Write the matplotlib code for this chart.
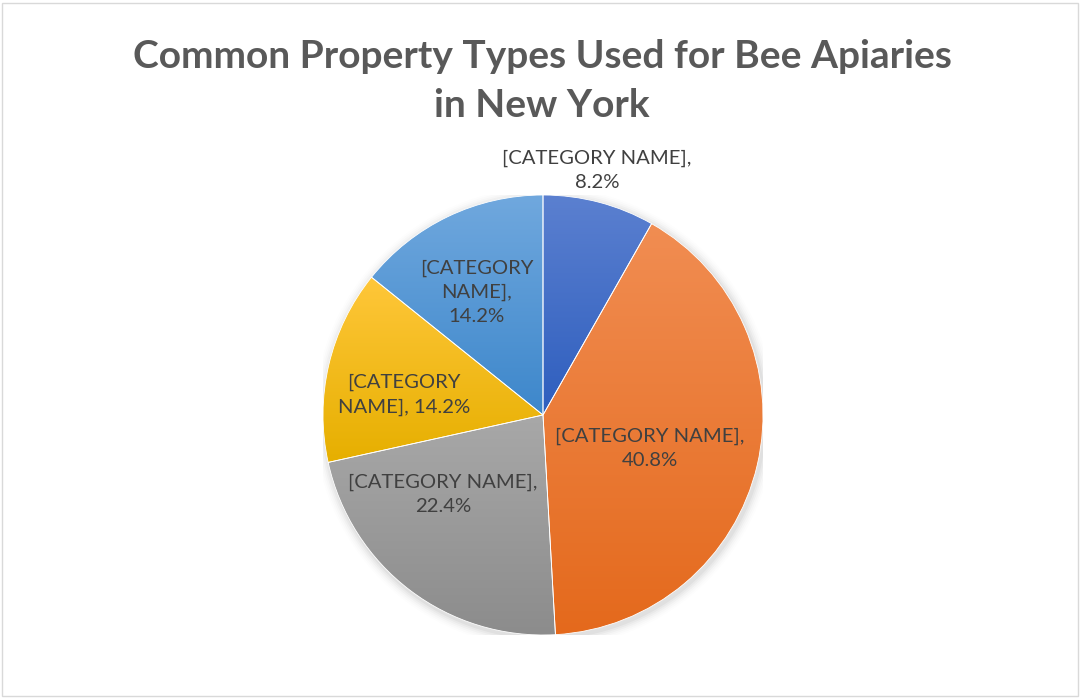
import numpy as np
import matplotlib
matplotlib.use("Agg")
import matplotlib.pyplot as plt
from matplotlib.colors import LinearSegmentedColormap
from matplotlib.patches import Rectangle, Circle

# ---- data ----
categories = ["[CATEGORY NAME]"] * 5
values = [8.2, 40.8, 22.4, 14.2, 14.2]
label_texts = ["[CATEGORY NAME],\n8.2%", "[CATEGORY NAME],\n40.8%",
               "[CATEGORY NAME],\n22.4%", "[CATEGORY\nNAME], 14.2%",
               "[CATEGORY\nNAME],\n14.2%"]

# ---- style ----
top_colors = ["#5B80D0", "#F18D52", "#A8A8A8", "#FFC73A", "#70A8DE"]
bot_colors = ["#2E5EBE", "#E4691C", "#8C8C8C", "#E6AF00", "#3D87CB"]
label_xy = [(0.245, 1.114), (0.486, -0.15), (-0.455, -0.359),
            (-0.632, 0.091), (-0.30, 0.559)]
title_font = "Lato"
label_font = "Lato"
txt_color = "#404040"

W, H = 1081, 698
fig = plt.figure(figsize=(W / 100, H / 100), dpi=100)
fig.patch.set_facecolor("white")
fig.add_artist(Rectangle((2 / W, 2 / H), 1 - 5 / W, 1 - 5 / H,
                         transform=fig.transFigure, fill=False,
                         edgecolor="#D9D9D9", linewidth=1.0))

cx, cy, r = 543, 415, 220
ax = fig.add_axes([(cx - r) / W, (H - cy - r) / H, 2 * r / W, 2 * r / H])
ax.set_xlim(-1, 1)
ax.set_ylim(-1, 1)
ax.axis("off")

# soft shadow
for i, a in enumerate(np.linspace(0.035, 0.006, 6)):
    ax.add_patch(Circle((0.008, -0.012), 1.0 + 0.008 * (i + 1), color="black",
                        alpha=a, zorder=0, linewidth=0))

wedges, _ = ax.pie(values, startangle=90, counterclock=False, radius=1,
                   normalize=True,
                   wedgeprops=dict(edgecolor="white", linewidth=0.6))

grad = np.linspace(0, 1, 256).reshape(-1, 1)
for w, c1, c2 in zip(wedges, top_colors, bot_colors):
    w.set_facecolor("none")
    w.set_zorder(3)
    ext = w.get_path().get_extents()
    cmap = LinearSegmentedColormap.from_list("g", [c1, c2])
    im = ax.imshow(grad, cmap=cmap, aspect="auto",
                   extent=(ext.x0, ext.x1, ext.y0, ext.y1),
                   origin="upper", zorder=2, interpolation="bilinear")
    im.set_clip_path(w)
ax.set_xlim(-1, 1)
ax.set_ylim(-1, 1)

for (x, y), t in zip(label_xy, label_texts):
    ax.text(x, y, t, ha="center", va="center", fontsize=14.6,
            family=label_font, color=txt_color, linespacing=1.5, zorder=5)

fig.text(542 / W, 1 - 81 / H, "Common Property Types Used for Bee Apiaries\nin New York",
         ha="center", va="center", fontsize=28, fontweight="bold",
         family=title_font, color="#595959", linespacing=1.48)

fig.savefig("out.png", dpi=100, facecolor="white")
